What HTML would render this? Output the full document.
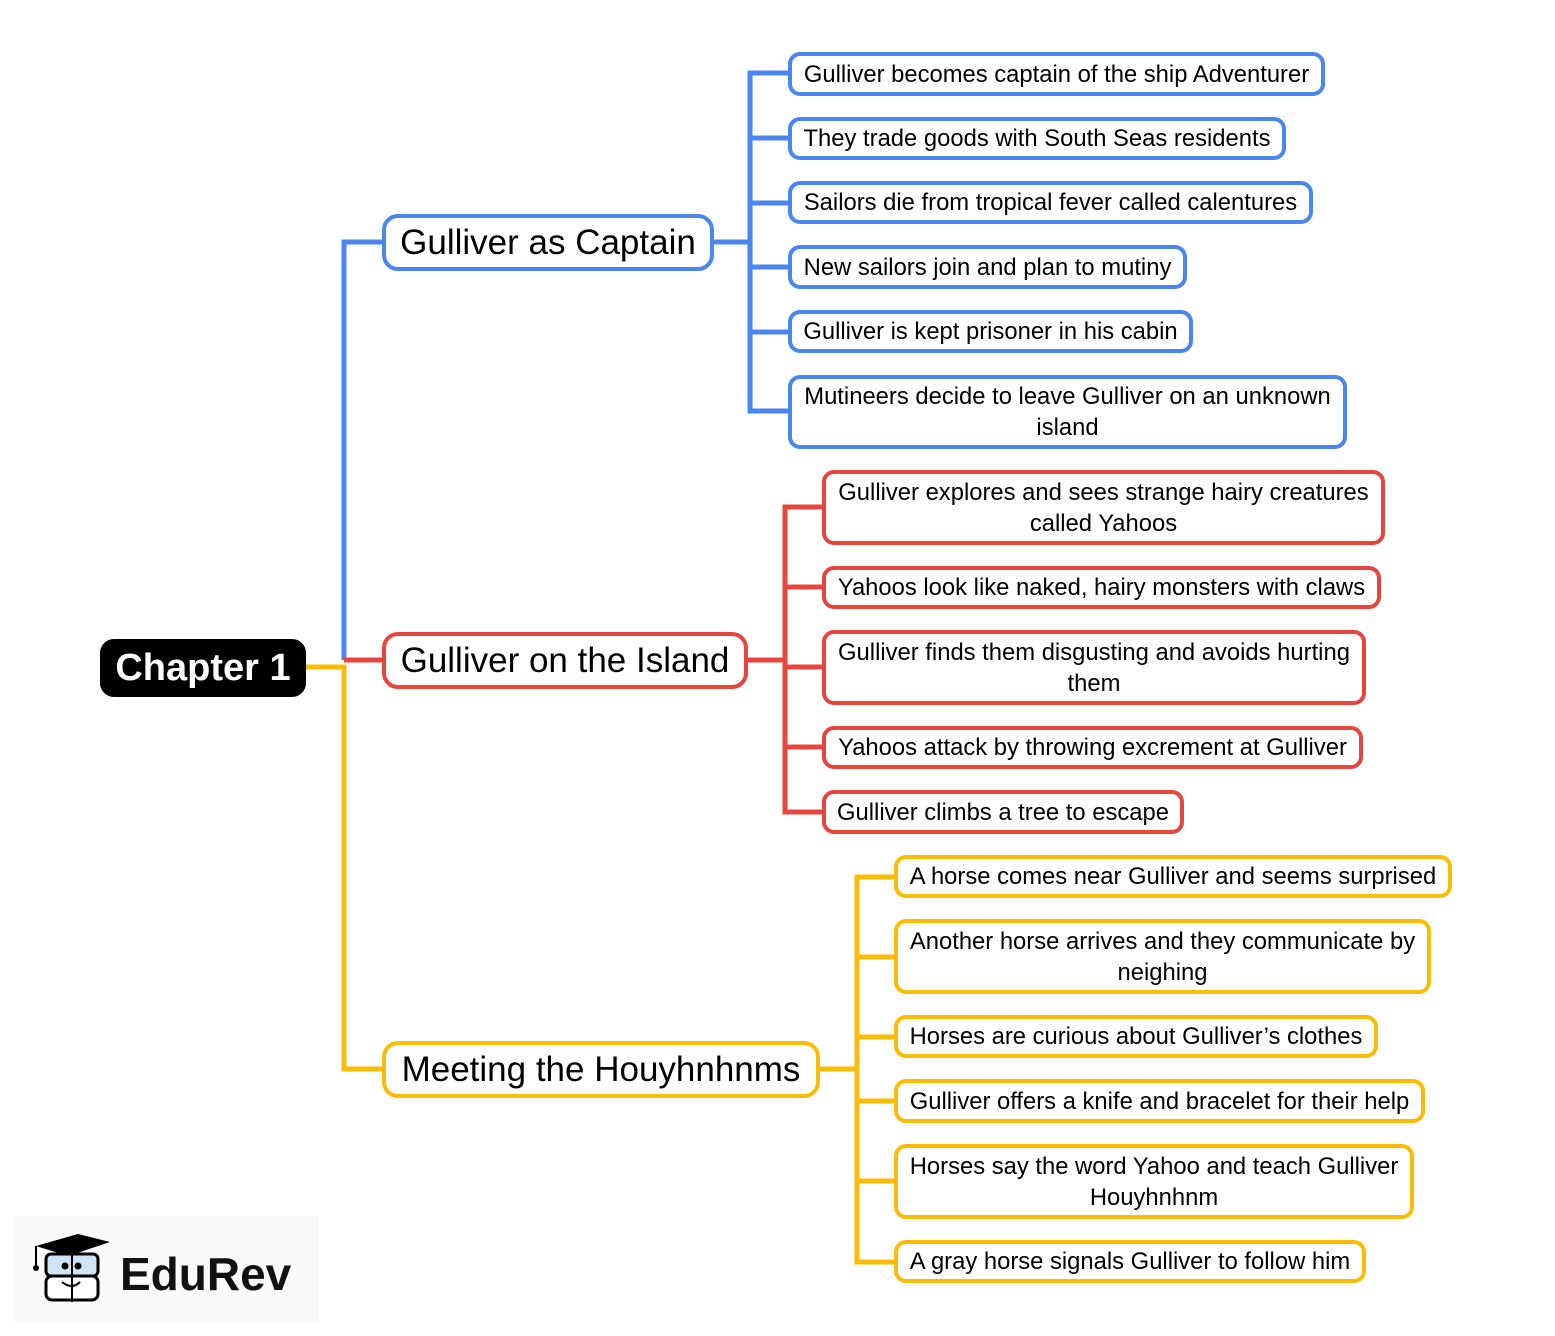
<!DOCTYPE html>
<html><head><meta charset="utf-8"><style>
body{margin:0;width:1555px;height:1336px;background:#fff;position:relative;overflow:hidden;font-family:"Liberation Sans",Arial,sans-serif}
.n{position:absolute;box-sizing:border-box;border:4px solid;border-radius:12px;background:#fff;display:flex;align-items:center;justify-content:center;text-align:center;color:#000;font-size:23.8px;line-height:31px;padding:0 8px}
.m{font-size:35px;border-radius:16px;white-space:nowrap;padding:0}
.b{border-color:#4a86f0}.r{border-color:#e8453c}.y{border-color:#fbbc05}
svg{position:absolute;left:0;top:0}
</style></head><body>
<svg width="1555" height="1336">
<g fill="none" stroke-width="5">
<path d="M382 242H344V660" stroke="#4a86f0"/>
<path d="M344 660H382" stroke="#e8453c"/>
<path d="M306 667H344V1069H382" stroke="#fbbc05"/>
<path d="M714 242H750M788 73H750V411H788M750 138H788M750 203H788M750 267H788M750 332H788" stroke="#4a86f0"/>
<path d="M748 660H785M822 507H785V812H822M785 587H822M785 667H822M785 747H822" stroke="#e8453c"/>
<path d="M820 1069H857M894 877H857V1262H894M857 957H894M857 1037H894M857 1101H894M857 1181H894" stroke="#fbbc05"/>
</g></svg>
<div class="n" style="left:100px;top:639px;width:206px;height:58px;background:#000;border-color:#000;color:#fff;font-weight:bold;font-size:38px;border-radius:14px;white-space:nowrap;padding:0">Chapter 1</div>
<div class="n m b" style="left:382px;top:214px;width:332px;height:57px">Gulliver as Captain</div>
<div class="n m r" style="left:382px;top:632px;width:366px;height:57px">Gulliver on the Island</div>
<div class="n m y" style="left:382px;top:1041px;width:438px;height:57px">Meeting the Houyhnhnms</div>

<div class="n b" style="left:788px;top:52px;width:537px;height:44px">Gulliver becomes captain of the ship Adventurer</div>
<div class="n b" style="left:788px;top:117px;width:498px;height:43px">They trade goods with South Seas residents</div>
<div class="n b" style="left:788px;top:181px;width:525px;height:43px">Sailors die from tropical fever called calentures</div>
<div class="n b" style="left:788px;top:245px;width:399px;height:44px">New sailors join and plan to mutiny</div>
<div class="n b" style="left:788px;top:310px;width:405px;height:43px">Gulliver is kept prisoner in his cabin</div>
<div class="n b" style="left:788px;top:375px;width:559px;height:74px">Mutineers decide to leave Gulliver on an unknown island</div>

<div class="n r" style="left:822px;top:470px;width:563px;height:75px">Gulliver explores and sees strange hairy creatures called Yahoos</div>
<div class="n r" style="left:822px;top:566px;width:559px;height:43px">Yahoos look like naked, hairy monsters with claws</div>
<div class="n r" style="left:822px;top:630px;width:544px;height:75px">Gulliver finds them disgusting and avoids hurting them</div>
<div class="n r" style="left:822px;top:726px;width:541px;height:43px">Yahoos attack by throwing excrement at Gulliver</div>
<div class="n r" style="left:822px;top:790px;width:362px;height:44px">Gulliver climbs a tree to escape</div>

<div class="n y" style="left:894px;top:855px;width:558px;height:43px">A horse comes near Gulliver and seems surprised</div>
<div class="n y" style="left:894px;top:919px;width:537px;height:75px">Another horse arrives and they communicate by neighing</div>
<div class="n y" style="left:894px;top:1015px;width:484px;height:43px">Horses are curious about Gulliver’s clothes</div>
<div class="n y" style="left:894px;top:1079px;width:531px;height:44px">Gulliver offers a knife and bracelet for their help</div>
<div class="n y" style="left:894px;top:1144px;width:520px;height:75px">Horses say the word Yahoo and teach Gulliver Houyhnhnm</div>
<div class="n y" style="left:894px;top:1240px;width:472px;height:43px">A gray horse signals Gulliver to follow him</div>

<div style="position:absolute;left:14px;top:1216px;width:305px;height:106px;background:#fafafa"></div>
<svg width="120" height="90" style="left:28px;top:1232px">
<polygon points="8,14 50,2 82,10 40,24" fill="#000"/>
<path d="M8 14V34" stroke="#000" stroke-width="2"/><circle cx="8" cy="36" r="3"/>
<rect x="18" y="22" width="52" height="22" rx="5" fill="#cfe3f5" stroke="#000" stroke-width="3"/>
<rect x="18" y="44" width="52" height="24" rx="6" fill="#fff" stroke="#000" stroke-width="3"/>
<path d="M44 22V70" stroke="#000" stroke-width="2"/>
<circle cx="37" cy="34" r="3.5"/><circle cx="50" cy="34" r="3.5"/>
<path d="M34 50Q44 58 52 50" stroke="#000" stroke-width="2" fill="none"/>
</svg>
<div style="position:absolute;left:120px;top:1246px;font-size:46px;font-weight:bold;color:#111;line-height:56px">EduRev</div>
</body></html>
